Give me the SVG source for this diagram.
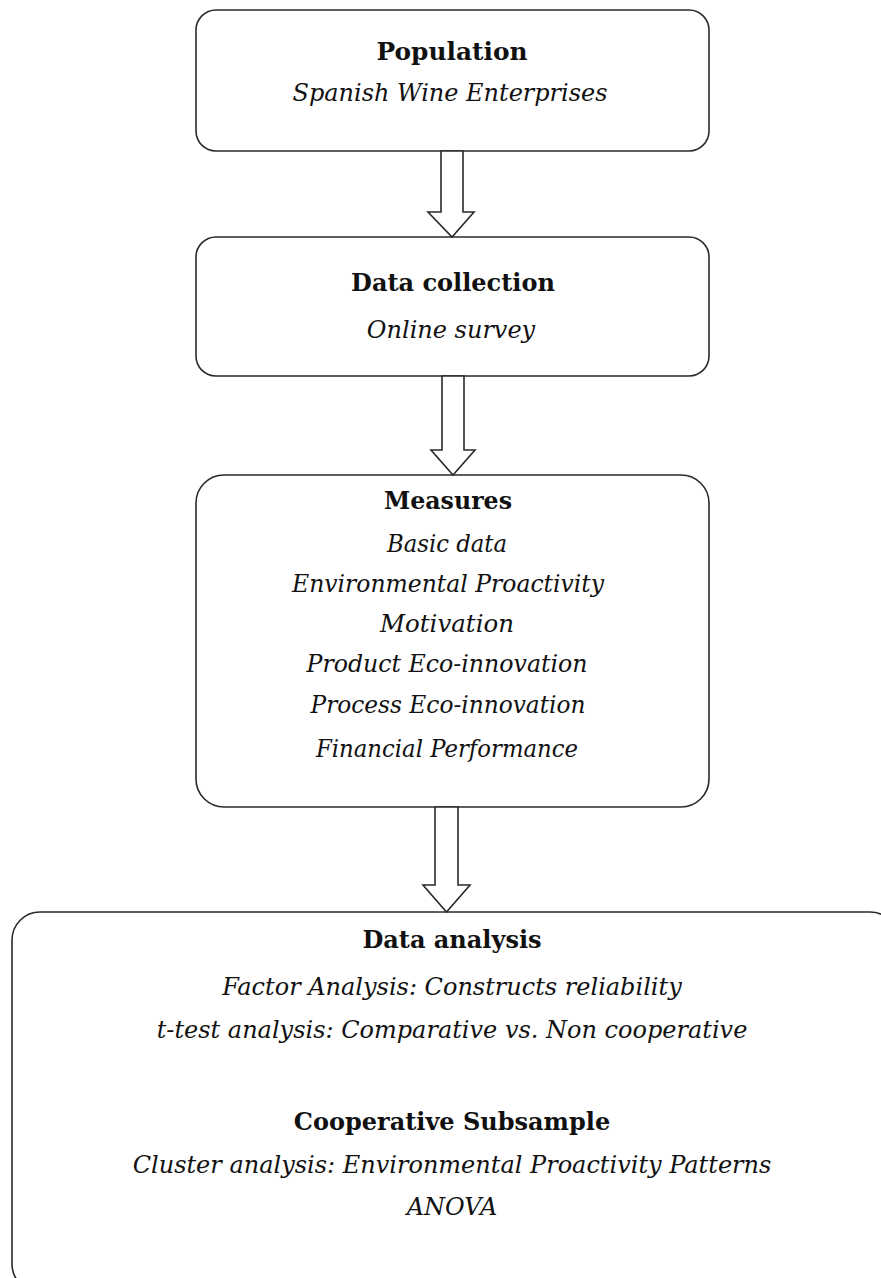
<svg xmlns="http://www.w3.org/2000/svg" width="881" height="1278" viewBox="0 0 881 1278">
<style>
.box{fill:#fff;stroke:#2a2a2a;stroke-width:1.6}
.arr{fill:#fff;stroke:#2a2a2a;stroke-width:1.6;stroke-linejoin:miter}
.h{font-family:"DejaVu Serif","Liberation Serif",serif;font-weight:bold;font-size:24px;fill:#111;text-anchor:middle}
.t{font-family:"DejaVu Serif","Liberation Serif",serif;font-style:italic;font-size:24px;fill:#111;text-anchor:middle}
</style>
<rect width="881" height="1278" fill="#fff"/>
<g id="population">
<rect class="box" x="196" y="10" width="513" height="141" rx="20"/>
<text class="h" x="452" y="60" textLength="151" lengthAdjust="spacingAndGlyphs">Population</text>
<text class="t" x="450" y="101" textLength="315" lengthAdjust="spacingAndGlyphs">Spanish Wine Enterprises</text>
</g>
<g id="data-collection">
<rect class="box" x="196" y="237" width="513" height="139" rx="20"/>
<text class="h" x="453" y="291">Data collection</text>
<text class="t" x="451" y="338">Online survey</text>
</g>
<g id="measures">
<rect class="box" x="196" y="475" width="513" height="332" rx="28"/>
<text class="h" x="448" y="509" textLength="128" lengthAdjust="spacingAndGlyphs">Measures</text>
<text class="t" x="447" y="552" textLength="120" lengthAdjust="spacingAndGlyphs">Basic data</text>
<text class="t" x="448" y="592" textLength="312" lengthAdjust="spacingAndGlyphs">Environmental Proactivity</text>
<text class="t" x="447" y="632" textLength="134" lengthAdjust="spacingAndGlyphs">Motivation</text>
<text class="t" x="447" y="672" textLength="281" lengthAdjust="spacingAndGlyphs">Product Eco-innovation</text>
<text class="t" x="448" y="713" textLength="275" lengthAdjust="spacingAndGlyphs">Process Eco-innovation</text>
<text class="t" x="447" y="757" textLength="262" lengthAdjust="spacingAndGlyphs">Financial Performance</text>
</g>
<g id="data-analysis">
<rect class="box" x="12" y="912" width="886" height="380" rx="28"/>
<text class="h" x="452" y="948">Data analysis</text>
<text class="t" x="452" y="995">Factor Analysis: Constructs reliability</text>
<text class="t" x="452" y="1038">t-test analysis: Comparative vs. Non cooperative</text>
<text class="h" x="452" y="1130">Cooperative Subsample</text>
<text class="t" x="452" y="1173">Cluster analysis: Environmental Proactivity Patterns</text>
<text class="t" x="452" y="1215">ANOVA</text>
</g>
<g id="connectors">
<polygon class="arr" points="441,151 463,151 463,212 474,212 452,237 428,212 441,212"/>
<polygon class="arr" points="442,376 464,376 464,450 475,450 453,475 431,450 442,450"/>
<polygon class="arr" points="435,807 458,807 458,885 470,885 446.5,912 423,885 435,885"/>
</g>
</svg>
